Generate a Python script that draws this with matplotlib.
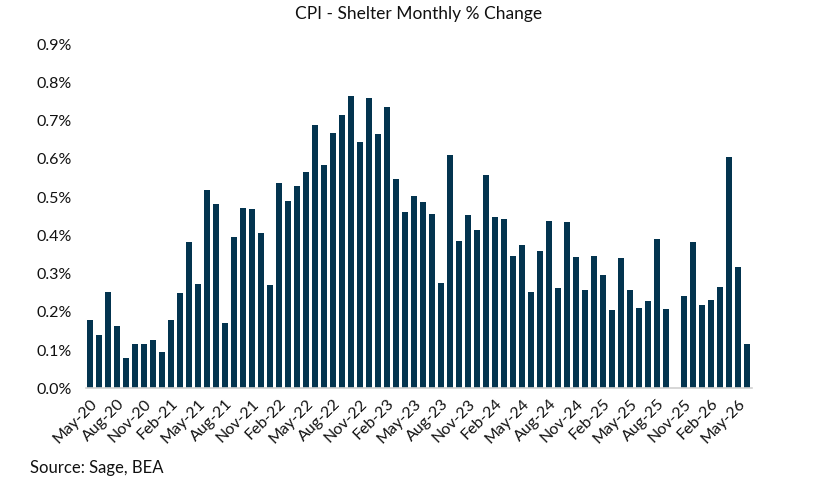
import numpy as np
import pandas as pd
import matplotlib.pyplot as plt
from matplotlib.ticker import FuncFormatter

# monthly % change, May-20 .. Jun-26 (Oct-25 not published)
months = pd.date_range("2020-05-01", "2026-06-01", freq="MS")
shelter = [
    0.179, 0.139, 0.252, 0.163, 0.079, 0.116, 0.116, 0.126, 0.095, 0.179,
    0.249, 0.382, 0.273, 0.518, 0.482, 0.171, 0.396, 0.471, 0.469, 0.406,
    0.270, 0.537, 0.490, 0.529, 0.565, 0.688, 0.584, 0.667, 0.714, 0.764,
    0.644, 0.759, 0.665, 0.735, 0.547, 0.461, 0.503, 0.487, 0.456, 0.275,
    0.610, 0.385, 0.453, 0.414, 0.558, 0.448, 0.443, 0.346, 0.375, 0.252,
    0.359, 0.437, 0.262, 0.435, 0.343, 0.257, 0.346, 0.296, 0.205, 0.341,
    0.257, 0.210, 0.228, 0.390, 0.207, np.nan, 0.241, 0.382, 0.218, 0.231,
    0.265, 0.605, 0.317, 0.116,
]
tick_labels = [m.strftime("%b-%y") for m in months]

plt.rcParams['font.family'] = ['Lato', 'DejaVu Sans']

fig = plt.figure(figsize=(8.2, 4.88), dpi=100)
ax = fig.add_axes([0.1043, 0.2043, 0.8122, 0.7055])

x = np.arange(len(months))
ax.bar(x, shelter, width=0.66, color='#03344f')

ax.set_xlim(-0.5, len(months) - 0.5)
ax.set_ylim(0, 0.9)
ax.set_yticks(np.arange(0, 0.91, 0.1))
ax.yaxis.set_major_formatter(FuncFormatter(lambda v, p: f"{v:.1f}%"))
ax.set_xticks(x[::3])
ax.set_xticklabels(tick_labels[::3], rotation=45, ha='right', rotation_mode='anchor')

ax.tick_params(axis='y', length=0, pad=10, labelsize=11.5, labelcolor='#111111')
ax.tick_params(axis='x', length=0, pad=6, labelsize=11.5, labelcolor='#111111')

for s in ['top', 'right', 'left']:
    ax.spines[s].set_visible(False)
ax.spines['bottom'].set_color('#d0d0d0')
ax.spines['bottom'].set_linewidth(1.2)

ax.set_title('CPI - Shelter Monthly % Change', fontsize=12.5, color='#111111', pad=18)
fig.text(30 / 820, 1 - 468 / 488, 'Source: Sage, BEA', fontsize=12, color='#111111', va='center')

fig.savefig('out.png', dpi=100)
